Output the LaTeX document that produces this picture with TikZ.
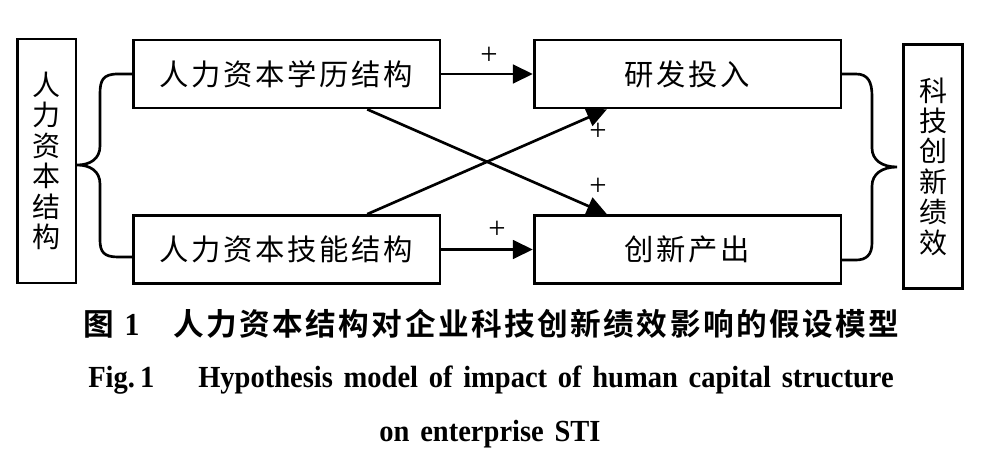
\documentclass[tikz,border=0pt]{standalone}
\usepackage{fontspec}
\setmainfont{Liberation Serif}
\newfontfamily\cjk[LetterSpace=9]{Noto Sans CJK SC}
\newfontfamily\cjkv{Noto Sans CJK SC}
\newfontfamily\cjkb[LetterSpace=8]{Noto Sans CJK SC Bold}
\newfontfamily\enb[FakeStretch=0.93,WordSpace=1.5]{Liberation Serif Bold}
\usetikzlibrary{arrows.meta,positioning}
\tikzset{
  blk/.style={draw, line width=2pt, minimum width=230pt, minimum height=51pt,
              inner sep=0pt, font=\cjk\fontsize{22}{24}\selectfont},
  tall/.style={draw, line width=2pt, minimum width=44pt, minimum height=183pt,
               inner sep=0pt, align=center, font=\cjkv\fontsize{21}{22.8}\selectfont},
  arr/.style={-{Triangle[length=15pt,width=14pt]}, line width=2pt},
  brc/.style={line width=2pt},
  pls/.style={inner sep=0pt, font=\fontsize{23}{23}\selectfont},
  captxt/.style={inner sep=0pt, anchor=base west},
}

\begin{document}
\begin{tikzpicture}[x=0.75pt, y=-0.75pt]
  \useasboundingbox (0,0) rectangle (996,464);
  \node[tall] (hcs) at (46.5,161) {人\\力\\资\\本\\结\\构};
  \node[blk] (edu) at (286.5,74) {人力资本学历结构};
  \node[blk] (skl) at (286.5,249.5) {人力资本技能结构};
  \node[blk] (rd) at (687.5,74) {研发投入};
  \node[blk] (out) at (687.5,249.5) {创新产出};
  \node[tall] (sti) at (933,166.5) {科\\技\\创\\新\\绩\\效};
  \draw[brc] (edu.west) -- (118,74) .. controls (103,74) and (100,80) .. (100,94)
    -- (100,146) .. controls (100,159) and (90,165) .. (77,165)
    .. controls (90,165) and (100,171) .. (100,184) -- (100,240)
    .. controls (100,252) and (104,257) .. (118,257) -- (132,257);
  \draw[brc] (rd.east) -- (856,74) .. controls (868,74) and (872,82) .. (872,96)
    -- (872,148) .. controls (872,160) and (882,167) .. (897,167)
    .. controls (882,167) and (872,174) .. (872,186) -- (872,243)
    .. controls (872,255) and (866,260) .. (856,260) -- (842,260);
  \draw[arr] (edu) -- (rd);
  \draw[arr] (skl) -- (out);
  \draw[arr] (edu) -- (out);
  \draw[arr] (skl) -- (rd);
  \node[pls] (p1) at (489,56) {+};
  \node[pls] (p2) at (497,230) {+};
  \node[pls] (p3) at (598,132) {+};
  \node[pls] (p4) at (598,187) {+};
  \node[captxt] (fcn) at (83,335) {{\cjkb\fontsize{23}{23}\selectfont 图}\hspace{8pt}{\enb\fontsize{24}{24}\selectfont 1}};
  \node[captxt] (tcn) at (173,335) {\cjkb\fontsize{23}{23}\selectfont 人力资本结构对企业科技创新绩效影响的假设模型};
  \node[captxt] (fen) at (88,387) {\enb\fontsize{23}{23}\selectfont Fig.\,1};
  \node[captxt] (ten) at (198,387) {\enb\fontsize{23}{23}\selectfont Hypothesis model of impact of human capital structure};
  \node[inner sep=0pt, anchor=base] (ten2) at (490,441) {\enb\fontsize{23}{23}\selectfont on enterprise STI};
\end{tikzpicture}
\end{document}
